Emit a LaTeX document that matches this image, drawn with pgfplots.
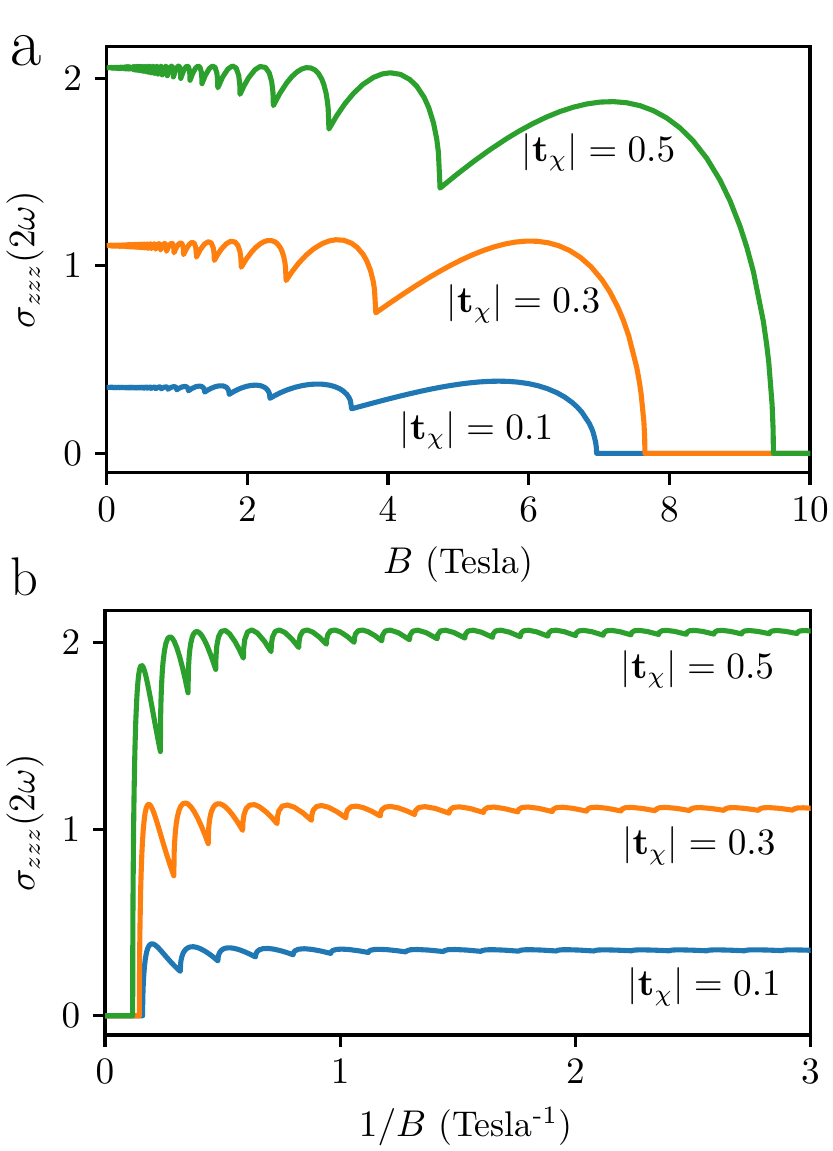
\documentclass[border=0pt]{standalone}
\usepackage{pgfplots}
\usepackage{pgfplotstable}
\pgfplotsset{compat=1.18}
\definecolor{tabblue}{HTML}{1F77B4}
\definecolor{taborange}{HTML}{FF7F0E}
\definecolor{tabgreen}{HTML}{2CA02C}

\pgfplotstableread{
B x s
12 0 0
10 0.1 0
9.48 0.1177 0
9.4753 0.1178 0.1309
9.461 0.1179 0.2613
9.414 0.1185 0.4850
9.385 0.1189 0.5769
9.338 0.1195 0.7011
9.196 0.1213 0.9682
9.101 0.1226 1.1001
9.006 0.1239 1.2102
8.864 0.1259 1.3462
8.722 0.1279 1.4565
8.532 0.1308 1.5739
8.342 0.1338 1.6651
8.153 0.1369 1.7356
7.963 0.1401 1.7889
7.774 0.1435 1.8279
7.584 0.1471 1.8545
7.394 0.1509 1.8701
7.205 0.1549 1.8762
7.015 0.1591 1.8737
6.826 0.1635 1.8636
6.636 0.1681 1.8466
6.446 0.1731 1.8234
6.257 0.1783 1.7945
6.067 0.1839 1.7604
5.878 0.1898 1.7219
5.688 0.1962 1.6791
5.451 0.2047 1.6202
5.214 0.2140 1.5562
4.977 0.2242 1.4876
4.74 0.2354 1.415
4.7164 0.2366 1.6062
4.6931 0.2378 1.6750
4.6471 0.2401 1.7619
4.5797 0.2436 1.8435
4.5143 0.2472 1.8982
4.4093 0.2531 1.9580
4.3091 0.2589 1.9944
4.1762 0.2672 2.0215
4.0340 0.2766 2.0300
3.9174 0.2848 2.0238
3.792 0.2943 2.0052
3.6462 0.3060 1.9688
3.5111 0.3178 1.9210
3.3857 0.3296 1.8643
3.269 0.3413 1.8002
3.16 0.3531 1.73
3.1495 0.3543 1.8367
3.1391 0.3555 1.8748
3.1184 0.3578 1.9225
3.0879 0.3613 1.9668
3.0581 0.3649 1.9960
3.0095 0.3708 2.0269
2.9625 0.3766 2.0448
2.8991 0.3849 2.0563
2.8299 0.3943 2.0569
2.7719 0.4025 2.0498
2.7086 0.4120 2.0353
2.6333 0.4237 2.0097
2.5622 0.4355 1.9777
2.4623 0.4531 1.9206
2.37 0.4708 1.855
2.3641 0.4720 1.9254
2.3465 0.4755 1.9814
2.3122 0.4826 2.0286
2.2571 0.4943 2.0586
2.1793 0.5120 2.0633
2.1067 0.5297 2.0455
2.0170 0.5532 2.0029
1.9546 0.5708 1.9618
1.896 0.5885 1.915
1.8922 0.5897 1.9666
1.8772 0.5944 2.0155
1.8408 0.6062 2.0553
1.7887 0.6238 2.0665
1.7236 0.6474 2.0504
1.6487 0.6768 2.0073
1.58 0.7062 1.95
1.5774 0.7074 1.9900
1.5669 0.7121 2.0278
1.5415 0.7239 2.0582
1.5048 0.7415 2.0661
1.4585 0.7651 2.0525
1.4044 0.7945 2.0178
1.3543 0.8239 1.972
1.3524 0.8251 2.0044
1.3447 0.8298 2.0351
1.3259 0.8416 2.0597
1.2986 0.8592 2.0661
1.264 0.8828 2.0551
1.2232 0.9122 2.0270
1.185 0.9416 1.99
1.1835 0.9428 2.0166
1.1776 0.9475 2.0415
1.1632 0.9593 2.0613
1.1422 0.9769 2.0658
1.1153 1.0005 2.0559
1.0834 1.0299 2.0316
1.0533 1.0593 2.0
1.0522 1.0605 2.0231
1.0475 1.0652 2.0448
1.0361 1.0770 2.0620
1.0194 1.0946 2.0658
0.9979 1.1182 2.0570
0.9723 1.1476 2.0357
0.948 1.177 2.008
0.9461 1.1794 2.0356
0.9368 1.1911 2.0599
0.9204 1.2123 2.0658
0.8943 1.2476 2.0511
0.8618 1.2947 2.014
0.8603 1.2971 2.0383
0.8525 1.3088 2.0597
0.8389 1.3300 2.0649
0.8172 1.3653 2.0518
0.79 1.4124 2.019
0.7887 1.4148 2.0410
0.7822 1.4265 2.0608
0.7707 1.4477 2.0648
0.7524 1.4830 2.0528
0.7292 1.5301 2.023
0.7281 1.5325 2.0430
0.7226 1.5442 2.0606
0.7128 1.5654 2.0648
0.6971 1.6007 2.0540
0.6771 1.6478 2.027
0.6762 1.6502 2.0452
0.6714 1.6619 2.0611
0.6629 1.6831 2.0648
0.6493 1.7184 2.0548
0.632 1.7655 2.030
0.6312 1.7679 2.0467
0.627 1.7796 2.0614
0.6196 1.8008 2.0648
0.6077 1.8361 2.0557
0.5925 1.8832 2.033
0.5918 1.8856 2.0482
0.5881 1.8973 2.0617
0.5816 1.9185 2.0648
0.5711 1.9538 2.0566
0.5576 2.0009 2.036
0.557 2.0033 2.0494
0.5537 2.0150 2.0611
0.548 2.0362 2.0639
0.5386 2.0715 2.0564
0.5267 2.1186 2.038
0.5261 2.1210 2.0504
0.5232 2.1327 2.0613
0.518 2.1539 2.0639
0.5097 2.1892 2.0570
0.4989 2.2363 2.040
0.4984 2.2387 2.0514
0.4958 2.2504 2.0615
0.4912 2.2716 2.0639
0.4837 2.3069 2.0576
0.474 2.354 2.042
0.4735 2.3564 2.0526
0.4712 2.3681 2.0618
0.467 2.3893 2.0639
0.4602 2.4246 2.0578
0.4514 2.4717 2.043
0.451 2.4741 2.0531
0.4489 2.4858 2.0619
0.4451 2.5070 2.0639
0.4389 2.5423 2.0581
0.4309 2.5894 2.044
0.4305 2.5918 2.0536
0.4286 2.6035 2.0620
0.4251 2.6247 2.0639
0.4195 2.6600 2.0584
0.4122 2.7071 2.045
0.4118 2.7095 2.0537
0.41 2.7212 2.0612
0.4069 2.7424 2.0629
0.4017 2.7777 2.0580
0.395 2.8248 2.046
0.3947 2.8272 2.0542
0.393 2.8389 2.0613
0.3901 2.8601 2.0630
0.3854 2.8954 2.0583
0.3792 2.9425 2.047
0.3789 2.9449 2.0547
0.3774 2.9566 2.0614
0.3747 2.9778 2.0630
0.3703 3.0131 2.0586
0.3269 4 2.050
0.3235 4 2.062
0.316 4 2.050
0.3129 4 2.062
0.3058 4 2.051
0.3029 4 2.062
0.2963 4 2.051
0.2935 4 2.062
0.2873 4 2.051
0.2847 4 2.062
0.2788 4 2.051
0.2764 4 2.062
0.2709 4 2.051
0.2686 4 2.061
0.2633 4 2.051
0.2612 4 2.061
0.2495 4 2.052
0.2475 4 2.061
0.237 4 2.052
0.2352 4 2.061
0.2107 4 2.052
0.2093 4 2.061
0.1896 4 2.052
0.1885 4 2.061
0.158 4 2.052
0.1572 4 2.060
0.1185 4 2.053
0.1181 4 2.060
0.079 4 2.053
0.0788 4 2.059
0 5 2.056
}\greendata

\pgfplotstableread{
B x s
12 0 0
10 0.1 0
7.653 0.1463 0
7.6492 0.1464 0.0854
7.6377 0.1466 0.1703
7.5994 0.1473 0.3157
7.5765 0.1478 0.3753
7.5382 0.1485 0.4553
7.4234 0.1508 0.6259
7.3469 0.1524 0.7090
7.2704 0.1540 0.7775
7.1556 0.1565 0.8607
7.0408 0.1590 0.9267
6.8877 0.1626 0.9949
6.7346 0.1663 1.0455
6.5816 0.1701 1.0822
6.4285 0.1742 1.1076
6.2755 0.1784 1.1235
6.1224 0.1829 1.1315
5.9693 0.1876 1.1324
5.8163 0.1925 1.1273
5.6632 0.1977 1.1168
5.5102 0.2032 1.1017
5.3571 0.2090 1.0824
5.204 0.2151 1.0596
5.051 0.2217 1.0335
4.8979 0.2286 1.0046
4.7449 0.2360 0.9732
4.5918 0.2438 0.9398
4.4005 0.2544 0.8953
4.2092 0.2660 0.8486
4.0178 0.2787 0.7999
3.8265 0.2926 0.75
3.8075 0.2941 0.8744
3.7886 0.2955 0.9190
3.7515 0.2985 0.9750
3.6971 0.3028 1.0273
3.6443 0.3072 1.0620
3.5595 0.3145 1.0993
3.4786 0.3219 1.1214
3.3714 0.3321 1.1367
3.2566 0.3438 1.1395
3.1624 0.3540 1.1331
3.0612 0.3658 1.1183
2.9435 0.3804 1.0912
2.8344 0.3950 1.0567
2.7332 0.4096 1.0163
2.639 0.4243 0.9712
2.551 0.4389 0.922
2.5425 0.4404 0.9927
2.5341 0.4418 1.0179
2.5174 0.4448 1.0493
2.4928 0.4491 1.0783
2.4687 0.4535 1.0973
2.4295 0.4608 1.1172
2.3916 0.4682 1.1285
2.3404 0.4784 1.1353
2.2845 0.4901 1.1348
2.2377 0.5003 1.1292
2.1866 0.5121 1.1186
2.1258 0.5267 1.1004
2.0684 0.5413 1.0780
1.9878 0.5633 1.0383
1.9133 0.5852 0.993
1.9085 0.5867 1.0399
1.8943 0.5911 1.0772
1.8666 0.5998 1.1085
1.8221 0.6145 1.1281
1.7593 0.6364 1.1306
1.7007 0.6584 1.1181
1.6283 0.6876 1.0889
1.5779 0.7096 1.0608
1.5306 0.7315 1.029
1.5275 0.7330 1.0636
1.5154 0.7388 1.0962
1.486 0.7534 1.1224
1.444 0.7754 1.1290
1.3915 0.8047 1.1171
1.331 0.8412 1.0868
1.2755 0.8778 1.047
1.2734 0.8793 1.0744
1.265 0.8851 1.1003
1.2444 0.8997 1.1209
1.2148 0.9217 1.1260
1.1774 0.9510 1.1163
1.1338 0.9875 1.0919
1.0933 1.0241 1.06
1.0917 1.0256 1.0819
1.0855 1.0314 1.1025
1.0703 1.0460 1.1189
1.0484 1.0680 1.1230
1.0204 1.0973 1.1151
0.9875 1.1338 1.0956
0.9566 1.1704 1.07
0.9554 1.1719 1.0877
0.9507 1.1777 1.1044
0.939 1.1923 1.1177
0.9221 1.2143 1.1210
0.9004 1.2436 1.1146
0.8746 1.2801 1.0987
0.8503 1.3167 1.078
0.8484 1.3196 1.0977
0.8391 1.3343 1.1153
0.8229 1.3606 1.1200
0.7972 1.4045 1.1104
0.7653 1.463 1.085
0.7638 1.4659 1.1011
0.7562 1.4806 1.1154
0.743 1.5069 1.1189
0.722 1.5508 1.1105
0.6957 1.6093 1.089
0.6945 1.6122 1.1028
0.6882 1.6269 1.1150
0.6773 1.6532 1.1179
0.6597 1.6971 1.1098
0.6378 1.7556 1.092
0.6367 1.7585 1.1044
0.6314 1.7732 1.1153
0.6222 1.7995 1.1179
0.6074 1.8434 1.1110
0.5887 1.9019 1.094
0.5878 1.9048 1.1050
0.5833 1.9195 1.1146
0.5754 1.9458 1.1169
0.5627 1.9897 1.1109
0.5466 2.0482 1.096
0.5459 2.0511 1.1061
0.542 2.0658 1.1150
0.5352 2.0921 1.1169
0.5242 2.1360 1.1111
0.5102 2.1945 1.097
0.5095 2.1974 1.1061
0.5062 2.2121 1.1142
0.5002 2.2384 1.1159
0.4906 2.2823 1.1107
0.4783 2.3408 1.098
0.4777 2.3437 1.1067
0.4747 2.3584 1.1142
0.4695 2.3847 1.1159
0.461 2.4286 1.1110
0.4502 2.4871 1.099
0.4496 2.4900 1.1067
0.447 2.5047 1.1134
0.4424 2.5310 1.1150
0.4348 2.5749 1.1106
0.4252 2.6334 1.1
0.4247 2.6363 1.1073
0.4224 2.6510 1.1136
0.4182 2.6773 1.1149
0.4115 2.7212 1.1105
0.4028 2.7797 1.1
0.4024 2.7826 1.1072
0.4003 2.7973 1.1135
0.3965 2.8236 1.1150
0.3905 2.8675 1.1109
0.3827 2.926 1.101
0.3823 2.9289 1.1073
0.3804 2.9436 1.1128
0.377 2.9699 1.1139
0.3715 3.0138 1.1101
0.3644 4 1.101
0.3593 4 1.114
0.3479 4 1.101
0.3432 4 1.114
0.3327 4 1.102
0.3285 4 1.114
0.3189 4 1.102
0.3149 4 1.114
0.3061 4 1.102
0.3025 4 1.113
0.2943 4 1.102
0.291 4 1.113
0.2733 4 1.103
0.2704 4 1.113
0.2551 4 1.103
0.2526 4 1.113
0.2251 4 1.103
0.2231 4 1.113
0.1913 4 1.103
0.1899 4 1.112
0.1531 4 1.104
0.1521 4 1.112
0.1093 4 1.104
0.1089 4 1.112
0.0765 4 1.104
0.0763 4 1.111
0 5 1.108
}\orangedata

\pgfplotstableread{
B x s
12 0 0
10 0.1 0
6.966 0.16 0
6.9625 0.1601 0.0301
6.9521 0.1603 0.0600
6.9172 0.1611 0.1111
6.8963 0.1616 0.1320
6.8615 0.1624 0.1600
6.757 0.1649 0.2194
6.6874 0.1667 0.2482
6.6177 0.1684 0.2717
6.5132 0.1711 0.3001
6.4087 0.1739 0.3223
6.2694 0.1778 0.3449
6.1301 0.1818 0.3612
5.9908 0.1860 0.3726
5.8514 0.1905 0.3800
5.7121 0.1951 0.3841
5.5728 0.2 0.3853
5.4335 0.2051 0.3842
5.2942 0.2105 0.3810
5.1548 0.2162 0.3759
5.0155 0.2222 0.3693
4.8762 0.2286 0.3613
4.7369 0.2353 0.3522
4.5976 0.2424 0.3420
4.4582 0.25 0.3309
4.3189 0.2581 0.3190
4.1796 0.2667 0.3065
4.0055 0.2783 0.2902
3.8313 0.2909 0.2732
3.6572 0.3048 0.2557
3.483 0.32 0.238
3.4657 0.3216 0.2804
3.4485 0.3232 0.2955
3.4147 0.3264 0.3145
3.3652 0.3312 0.3323
3.3171 0.336 0.3440
3.24 0.344 0.3566
3.1664 0.352 0.3640
3.0687 0.3632 0.3690
2.9643 0.376 0.3698
2.8785 0.3872 0.3674
2.7864 0.4 0.3622
2.6792 0.416 0.3527
2.58 0.432 0.3407
2.4879 0.448 0.3267
2.4021 0.464 0.3110
2.322 0.48 0.294
2.3143 0.4816 0.3173
2.3066 0.4832 0.3256
2.2914 0.4864 0.3360
2.2691 0.4912 0.3455
2.2471 0.496 0.3517
2.2114 0.504 0.3582
2.1769 0.512 0.3618
2.1303 0.5232 0.3639
2.0794 0.536 0.3635
2.0368 0.5472 0.3615
1.9903 0.56 0.3578
1.935 0.576 0.3515
1.8827 0.592 0.3438
1.8094 0.616 0.3304
1.7415 0.64 0.315
1.7372 0.6416 0.3305
1.7243 0.6464 0.3429
1.699 0.656 0.3532
1.6586 0.672 0.3597
1.6014 0.696 0.3605
1.548 0.72 0.3564
1.4821 0.752 0.3468
1.4363 0.776 0.3375
1.3932 0.8 0.327
1.3904 0.8016 0.3380
1.3794 0.808 0.3484
1.3526 0.824 0.3568
1.3143 0.848 0.3591
1.2665 0.88 0.3556
1.2115 0.92 0.3463
1.161 0.96 0.334
1.1591 0.9616 0.3419
1.1514 0.968 0.3494
1.1327 0.984 0.3554
1.1057 1.008 0.3571
1.0717 1.04 0.3545
1.032 1.08 0.3478
0.9951 1.12 0.339
0.9937 1.1216 0.3449
0.9881 1.128 0.3504
0.9743 1.144 0.3549
0.9542 1.168 0.3560
0.9288 1.2 0.3540
0.8988 1.24 0.3488
0.8708 1.28 0.342
0.8686 1.2832 0.3481
0.8579 1.2992 0.3536
0.8393 1.328 0.3550
0.81 1.376 0.3519
0.774 1.44 0.344
0.7723 1.4432 0.3493
0.7638 1.4592 0.3539
0.749 1.488 0.3550
0.7256 1.536 0.3521
0.6966 1.6 0.345
0.6952 1.6032 0.3493
0.6883 1.6192 0.3531
0.6763 1.648 0.3540
0.6572 1.696 0.3517
0.6333 1.76 0.346
0.6321 1.7632 0.3498
0.6264 1.7792 0.3532
0.6165 1.808 0.3540
0.6005 1.856 0.3520
0.5805 1.92 0.347
0.5795 1.9232 0.3504
0.5748 1.9392 0.3533
0.5663 1.968 0.3539
0.5529 2.016 0.3519
0.5358 2.08 0.347
0.535 2.0832 0.3498
0.5309 2.0992 0.3524
0.5238 2.128 0.3531
0.5122 2.176 0.3516
0.4976 2.24 0.348
0.4969 2.2432 0.3504
0.4933 2.2592 0.3525
0.4871 2.288 0.3530
0.4771 2.336 0.3515
0.4644 2.4 0.348
0.4638 2.4032 0.3504
0.4607 2.4192 0.3525
0.4553 2.448 0.3530
0.4465 2.496 0.3515
0.4354 2.56 0.348
0.4348 2.5632 0.3504
0.4321 2.5792 0.3525
0.4274 2.608 0.3530
0.4196 2.656 0.3515
0.4098 2.72 0.348
0.4093 2.7232 0.3504
0.4069 2.7392 0.3526
0.4027 2.768 0.3533
0.3958 2.816 0.3521
0.387 2.88 0.349
0.3866 2.8832 0.3509
0.3844 2.8992 0.3526
0.3807 2.928 0.3530
0.3745 2.976 0.3518
0.3666 3.04 0.349
0.3609 4 0.353
0.3483 4 0.349
0.3432 4 0.353
0.3317 4 0.349
0.327 4 0.353
0.3166 4 0.349
0.3124 4 0.353
0.3029 4 0.349
0.299 4 0.353
0.2786 4 0.349
0.2753 4 0.353
0.2488 4 0.350
0.2461 4 0.353
0.2177 4 0.350
0.2157 4 0.353
0.1742 4 0.350
0.1729 4 0.353
0.1267 4 0.350
0.126 4 0.353
0.0871 4 0.350
0.0867 4 0.353
0 5 0.352
}\bluedata

\pgfplotsset{
  myaxis/.style={
    scale only axis,
    anchor=south west,
    tick pos=left,
    tick align=outside,
    major tick length=3.5pt,
    line width=0.9pt,
    tick style={black, line width=0.9pt},
    ymin=-0.103, ymax=2.169,
    ytick={0,1,2},
    font=\fontsize{10.5}{12.6}\selectfont,
    ylabel={$\sigma_{zzz}(2\omega)$},
    every axis plot/.append style={line width=1.5pt, line join=round},
  },
}

\begin{document}
\begin{tikzpicture}
\useasboundingbox (0pt,0pt) rectangle (244.61pt,-338.39pt);

\begin{axis}[myaxis,
  at={(31.37pt,-138.97pt)},
  width=206.77pt, height=125.24pt,
  xmin=0, xmax=10, xtick={0,2,4,6,8,10},
  xlabel={$B$ (Tesla)},
  xlabel style={at={(axis description cs:0.5,-0.2156)}, anchor=center},
  ylabel style={at={(axis description cs:-0.1162,0.5)}, anchor=center},
]
\addplot[tabblue] table[x=B,y=s]{\bluedata};
\addplot[taborange] table[x=B,y=s]{\orangedata};
\addplot[tabgreen] table[x=B,y=s]{\greendata};
\node[anchor=center] at (axis cs:6.993,1.605) {$|\mathbf{t}_\chi| = 0.5$};
\node[anchor=center] at (axis cs:5.926,0.797) {$|\mathbf{t}_\chi| = 0.3$};
\node[anchor=center] at (axis cs:5.258,0.122) {$|\mathbf{t}_\chi| = 0.1$};
\end{axis}

\begin{axis}[myaxis,
  at={(30.87pt,-304.29pt)},
  width=207.42pt, height=124.74pt,
  xmin=0, xmax=3, xtick={0,1,2,3},
  xlabel={$1/B$ (Tesla\textsuperscript{-1})},
  xlabel style={at={(axis description cs:0.511,-0.2148)}, anchor=center},
  ylabel style={at={(axis description cs:-0.1134,0.5)}, anchor=center},
]
\addplot[tabblue] table[x=x,y=s]{\bluedata};
\addplot[taborange] table[x=x,y=s]{\orangedata};
\addplot[tabgreen] table[x=x,y=s]{\greendata};
\node[anchor=center] at (axis cs:2.519,1.856) {$|\mathbf{t}_\chi| = 0.5$};
\node[anchor=center] at (axis cs:2.525,0.910) {$|\mathbf{t}_\chi| = 0.3$};
\node[anchor=center] at (axis cs:2.548,0.156) {$|\mathbf{t}_\chi| = 0.1$};
\end{axis}

\node[anchor=base west, inner sep=0pt] at (2.94pt,-19.11pt) {\fontsize{20}{24}\selectfont a};
\node[anchor=base west, inner sep=0pt] at (2.94pt,-174.93pt) {\fontsize{16}{19}\selectfont b};
\end{tikzpicture}
\end{document}
